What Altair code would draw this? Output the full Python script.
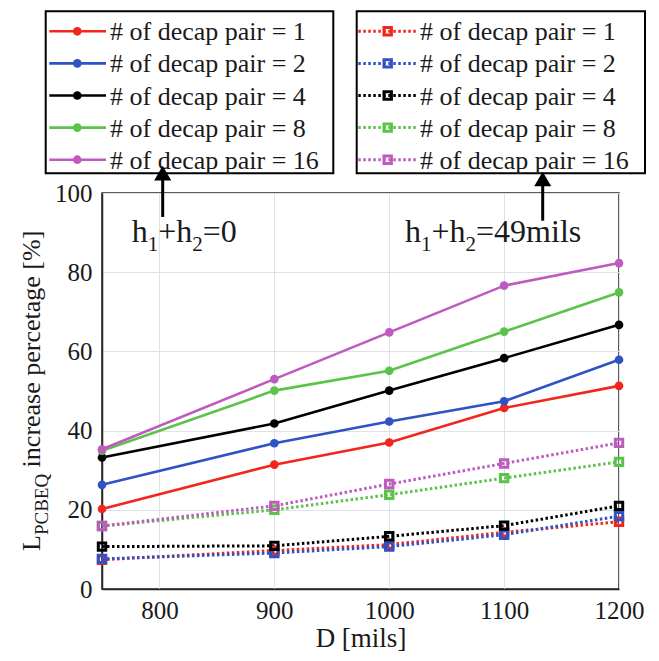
import altair as alt
import pandas as pd

# ---------------- data ----------------
D = [750, 900, 1000, 1100, 1200]
pairs = ["1", "2", "4", "8", "16"]
colors = ["#f2261c", "#2f52c4", "#000000", "#5bc24a", "#bf5bbf"]

# h1+h2 = 0 (solid lines, circles)
solid_1 = [20.2, 31.4, 37.0, 45.7, 51.3]
solid_2 = [26.3, 36.8, 42.3, 47.4, 57.9]
solid_4 = [33.2, 41.8, 50.1, 58.3, 66.7]
solid_8 = [34.9, 50.1, 55.1, 65.0, 74.9]
solid_16 = [35.3, 53.0, 64.8, 76.6, 82.3]

# h1+h2 = 49 mils (dotted lines, squares)
dotted_1 = [7.4, 9.7, 11.2, 14.3, 17.0]
dotted_2 = [7.6, 9.1, 10.7, 13.7, 18.4]
dotted_4 = [10.7, 10.9, 13.3, 16.0, 21.0]
dotted_8 = [15.9, 20.0, 23.8, 28.0, 32.1]
dotted_16 = [15.9, 21.0, 26.5, 31.7, 36.9]

x_ticks = [800, 900, 1000, 1100, 1200]
y_ticks = [0, 20, 40, 60, 80, 100]
legend_labels = ["# of decap pair = " + p for p in pairs]

FONT = "Liberation Serif"
TXT = "#1a1a1a"

solid = [solid_1, solid_2, solid_4, solid_8, solid_16]
dotted = [dotted_1, dotted_2, dotted_4, dotted_8, dotted_16]


def make_df(series):
    rows = []
    for p, vals in zip(pairs, series):
        for d, v in zip(D, vals):
            rows.append({"D": d, "value": v, "pair": p})
    return pd.DataFrame(rows)


df_solid = make_df(solid)
df_dotted = make_df(dotted)
df_leg = pd.DataFrame({"row": list(range(len(pairs))), "pair": pairs, "label": legend_labels})
one = pd.DataFrame({"a": [0]})

color_scale = alt.Scale(domain=pairs, range=colors)
xs = alt.Scale(domain=[750, 1200], nice=False, zero=False)
ys = alt.Scale(domain=[0, 100], nice=False)
leg_scale = alt.Scale(domain=[0, 4], range=[-161.7, -33.3], nice=False, zero=False)

x_axis = alt.Axis(values=x_ticks, format="d", title="D [mils]", titleFont=FONT, titleFontSize=27,
                  titleFontWeight="normal", titleColor=TXT, labelFont=FONT, labelFontSize=25,
                  labelColor=TXT, ticks=False, tickSize=0, domainColor="#262626", domainWidth=1.5,
                  gridColor="#dde2e8", labelPadding=9, titlePadding=2, labelFlush=False)
y_axis = alt.Axis(values=y_ticks, format="d", title=None, labelFont=FONT, labelFontSize=25, labelColor=TXT,
                  ticks=False, tickSize=0, domainColor="#262626", domainWidth=1.5,
                  gridColor="#dde2e8", labelPadding=10)

X = alt.X("D:Q", scale=xs, axis=x_axis)

# ---------------- main data layers ----------------
lines_solid = alt.Chart(df_solid).mark_line(strokeWidth=2.6).encode(
    x=X,
    y=alt.Y("value:Q", scale=ys, axis=y_axis),
    color=alt.Color("pair:N", scale=color_scale, legend=None),
)
lines_dotted = alt.Chart(df_dotted).mark_line(strokeWidth=3, strokeDash=[2.5, 2.5]).encode(
    x=X,
    y=alt.Y("value:Q", scale=ys, axis=None),
    color=alt.Color("pair:N", scale=color_scale, legend=None),
)
pts_solid = alt.Chart(df_solid).mark_point(filled=True, shape="circle", size=75, opacity=1).encode(
    x=X,
    y=alt.Y("value:Q", scale=ys, axis=None),
    color=alt.Color("pair:N", scale=color_scale, legend=None),
)
pts_dotted = alt.Chart(df_dotted).mark_point(filled=False, shape="square", size=55, strokeWidth=3, opacity=1).encode(
    x=X,
    y=alt.Y("value:Q", scale=ys, axis=None),
    color=alt.Color("pair:N", scale=color_scale, legend=None),
)

# ---------------- legend boxes ----------------
def box(x1, x2, y1, y2):
    return alt.Chart(one).mark_rect(fill="white", stroke="black", strokeWidth=2).encode(
        x=alt.value(x1), x2=alt.value(x2), y=alt.value(y1), y2=alt.value(y2))


box1 = box(-56.3, 231.3, -181.7, -19.7)
box2 = box(254.7, 543, -181.7, -19.7)

leg_y = alt.Y("row:Q", scale=leg_scale, axis=None)
leg_c = alt.Color("pair:N", scale=color_scale, legend=None)

leg1_rule = alt.Chart(df_leg).mark_rule(strokeWidth=2.6).encode(
    x=alt.value(-52.7), x2=alt.value(4), y=leg_y, color=leg_c)
leg1_pt = alt.Chart(df_leg).mark_point(filled=True, shape="circle", size=75, opacity=1).encode(
    x=alt.value(-24.7), y=leg_y, color=leg_c)
leg1_txt = alt.Chart(df_leg).mark_text(align="left", baseline="middle", font=FONT, fontSize=26,
                                       color=TXT, dy=1).encode(
    x=alt.value(8), y=leg_y, text="label:N")

leg2_rule = alt.Chart(df_leg).mark_rule(strokeWidth=3, strokeDash=[2.5, 2.5]).encode(
    x=alt.value(256.3), x2=alt.value(315.3), y=leg_y, color=leg_c)
leg2_pt = alt.Chart(df_leg).mark_point(filled=False, shape="square", size=55, strokeWidth=3, opacity=1).encode(
    x=alt.value(285.7), y=leg_y, color=leg_c)
leg2_txt = alt.Chart(df_leg).mark_text(align="left", baseline="middle", font=FONT, fontSize=26,
                                       color=TXT, dy=1).encode(
    x=alt.value(318), y=leg_y, text="label:N")

# ---------------- arrows ----------------
def arrow(x, y_bottom, y_head):
    shaft = alt.Chart(one).mark_rule(color="black", strokeWidth=3).encode(
        x=alt.value(x), y=alt.value(y_bottom), y2=alt.value(y_head))
    head = alt.Chart(one).mark_point(shape="triangle-up", filled=True, color="black", size=290, opacity=1).encode(
        x=alt.value(x), y=alt.value(y_head))
    return [shaft, head]


arrows = arrow(60.7, 24, -19.8) + arrow(440.7, 27.7, -14)

# ---------------- text pieces ----------------
def txt(s, x, y, size, angle=0):
    kw = dict(align="left", baseline="alphabetic", font=FONT, fontSize=size, color=TXT)
    if angle:
        kw["angle"] = angle
    return alt.Chart(one).mark_text(**kw).encode(x=alt.value(x), y=alt.value(y), text=alt.value(s))


F, S = 32, 21
BASE, SUB = 48.7, 57.5


def h_label(x0, tail):
    parts = []
    x = x0
    parts.append(txt("h", x, BASE, F)); x += 0.5 * F
    parts.append(txt("1", x, SUB, S)); x += 0.5 * S
    parts.append(txt("+h", x, BASE, F)); x += 1.064 * F
    parts.append(txt("2", x, SUB, S)); x += 0.5 * S
    parts.append(txt(tail, x, BASE, F))
    return parts


annots = h_label(29.7, "=0") + h_label(303, "=49mils")

# y-axis title: L_PCBEQ increase percetage [%]
TF, TS = 26, 19
ytitle = [
    txt("L", -62, 358, TF, 270),
    txt("PCBEQ", -54, 358 - 0.611 * TF, TS, 270),
    txt("increase percetage [%]", -62, 358 - 0.611 * TF - 3.223 * TS - 0.25 * TF, TF, 270),
]

chart = alt.layer(
    lines_solid, lines_dotted, pts_solid, pts_dotted,
    box1, box2,
    leg1_rule, leg1_pt, leg1_txt,
    leg2_rule, leg2_pt, leg2_txt,
    *arrows, *annots, *ytitle,
).resolve_scale(y="independent").properties(
    width=517, height=396,
    padding={"left": 94, "top": 185, "right": 30, "bottom": 64},
    autosize=alt.AutoSizeParams(type="none"),
    background="white",
).configure_view(stroke="#262626", strokeWidth=1.5)

chart.save("out.html", embed_options={"renderer": "svg", "actions": False})
